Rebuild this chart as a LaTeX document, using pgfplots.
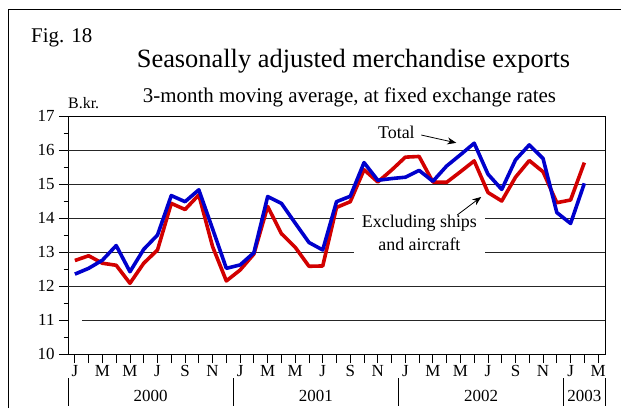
\documentclass[border=0pt]{standalone}
\usepackage{fontspec}
\setmainfont{Liberation Serif}
\usepackage{pgfplots}
\pgfplotsset{compat=1.18}
\usetikzlibrary{arrows.meta}
\definecolor{cblue}{RGB}{0,0,204}
\definecolor{cred}{RGB}{210,0,0}
\begin{document}
\begin{tikzpicture}[x=1bp,y=1bp]
\useasboundingbox (0,0) rectangle (621,408);
\draw[line width=1bp] (8,0) -- (8,398) -- (621,398);
\node[anchor=base west, inner sep=0, font=\fontsize{21}{25}\selectfont] at (31,366) {Fig. 18};
\node[anchor=base, inner sep=0, font=\fontsize{26.5}{30}\selectfont] at (353.5,341) {Seasonally adjusted merchandise exports};
\node[anchor=base, inner sep=0, font=\fontsize{21}{25}\selectfont] at (349.5,306) {3-month moving average, at fixed exchange rates};
\node[anchor=base west, inner sep=0, font=\fontsize{16}{19}\selectfont] at (68,300) {B.kr.};
\begin{axis}[
  at={(68bp,54bp)}, anchor=south west, scale only axis,
  width=537bp, height=238bp,
  xmin=-0.5, xmax=38.5, ymin=10, ymax=17,
  clip=false,
  axis line style={line width=0.9bp},
  tick style={black, line width=0.8bp},
  tick align=outside,
  major tick length=9bp, minor tick length=4.5bp,
  ytick={10,11,...,17}, minor ytick={10.5,11.5,...,16.5},
  xtick={0,1,...,38},
  xticklabels={J,,M,,M,,J,,S,,N,,J,,M,,M,,J,,S,,N,,J,,M,,M,,J,,S,,N,,J,,M},
  xtick pos=bottom, ytick pos=left,
  tick label style={font=\fontsize{17}{20}\selectfont},
  /pgf/number format/assume math mode=true,
  yticklabel style={xshift=-1bp},
  xticklabel style={yshift=1bp},
]
% grid lines
\draw[black!85, line width=0.8bp] (axis cs:0.5,11) -- (axis cs:38.5,11);
\draw[black!85, line width=0.8bp] (axis cs:-0.5,12) -- (axis cs:38.5,12);
\draw[black!85, line width=0.8bp] (axis cs:-0.5,13) -- (axis cs:38.5,13);
\draw[black!85, line width=0.8bp] (axis cs:-0.5,14) -- (axis cs:38.5,14);
\draw[black!85, line width=0.8bp] (axis cs:-0.5,15) -- (axis cs:38.5,15);
\draw[black!85, line width=0.8bp] (axis cs:-0.5,16) -- (axis cs:38.5,16);
% annotation box
\node[fill=white, align=center, inner xsep=8bp, inner ysep=5bp,
      font=\fontsize{18}{23}\selectfont] at (axis cs:25.02,13.56)
      {Excluding ships\\and aircraft};
\node[inner sep=1bp, font=\fontsize{18}{23}\selectfont] at (axis cs:23.35,16.53) {Total};
% data
\addplot[cred, line width=3.6bp, line join=round, no markers] coordinates {
(0,12.75) (1,12.89) (2,12.67) (3,12.61) (4,12.08) (5,12.67) (6,13.06) (7,14.43)
(8,14.25) (9,14.68) (10,13.16) (11,12.15) (12,12.47) (13,12.94) (14,14.34) (15,13.54)
(16,13.14) (17,12.58) (18,12.59) (19,14.31) (20,14.48) (21,15.42) (22,15.06) (23,15.41)
(24,15.79) (25,15.81) (26,15.06) (27,15.05) (28,15.36) (29,15.68) (30,14.75) (31,14.50)
(32,15.20) (33,15.69) (34,15.36) (35,14.45) (36,14.53) (37,15.63)
};
\addplot[cblue, line width=3.6bp, line join=round, no markers] coordinates {
(0,12.35) (1,12.52) (2,12.76) (3,13.19) (4,12.42) (5,13.08) (6,13.50) (7,14.66)
(8,14.48) (9,14.83) (10,13.68) (11,12.52) (12,12.62) (13,12.98) (14,14.63) (15,14.43)
(16,13.85) (17,13.28) (18,13.06) (19,14.48) (20,14.64) (21,15.63) (22,15.11) (23,15.16)
(24,15.20) (25,15.40) (26,15.08) (27,15.53) (28,15.86) (29,16.20) (30,15.29) (31,14.84)
(32,15.71) (33,16.15) (34,15.75) (35,14.16) (36,13.84) (37,15.02)
};
% arrows
\draw[line width=0.8bp, -{Stealth[length=9bp,width=7bp]}] (axis cs:25.16,16.44) -- (axis cs:27.70,16.21);
\draw[line width=0.8bp, -{Stealth[length=9bp,width=7bp]}] (axis cs:27.77,14.09) -- (axis cs:29.51,14.62);
% year labels
\draw[line width=0.8bp] ([yshift=-24bp]axis cs:-0.5,10) -- ([yshift=-52bp]axis cs:-0.5,10);
\draw[line width=0.8bp] ([yshift=-24bp]axis cs:11.5,10) -- ([yshift=-52bp]axis cs:11.5,10);
\draw[line width=0.8bp] ([yshift=-24bp]axis cs:23.5,10) -- ([yshift=-52bp]axis cs:23.5,10);
\draw[line width=0.8bp] ([yshift=-24bp]axis cs:35.5,10) -- ([yshift=-52bp]axis cs:35.5,10);
\draw[line width=0.8bp] ([yshift=-24bp]axis cs:38.5,10) -- ([yshift=-52bp]axis cs:38.5,10);
\node[font=\fontsize{17}{20}\selectfont] at ([yshift=-42bp]axis cs:5.5,10) {2000};
\node[font=\fontsize{17}{20}\selectfont] at ([yshift=-42bp]axis cs:17.5,10) {2001};
\node[font=\fontsize{17}{20}\selectfont] at ([yshift=-42bp]axis cs:29.5,10) {2002};
\node[font=\fontsize{17}{20}\selectfont] at ([yshift=-42bp]axis cs:37,10) {2003};
\end{axis}
\end{tikzpicture}
\end{document}
